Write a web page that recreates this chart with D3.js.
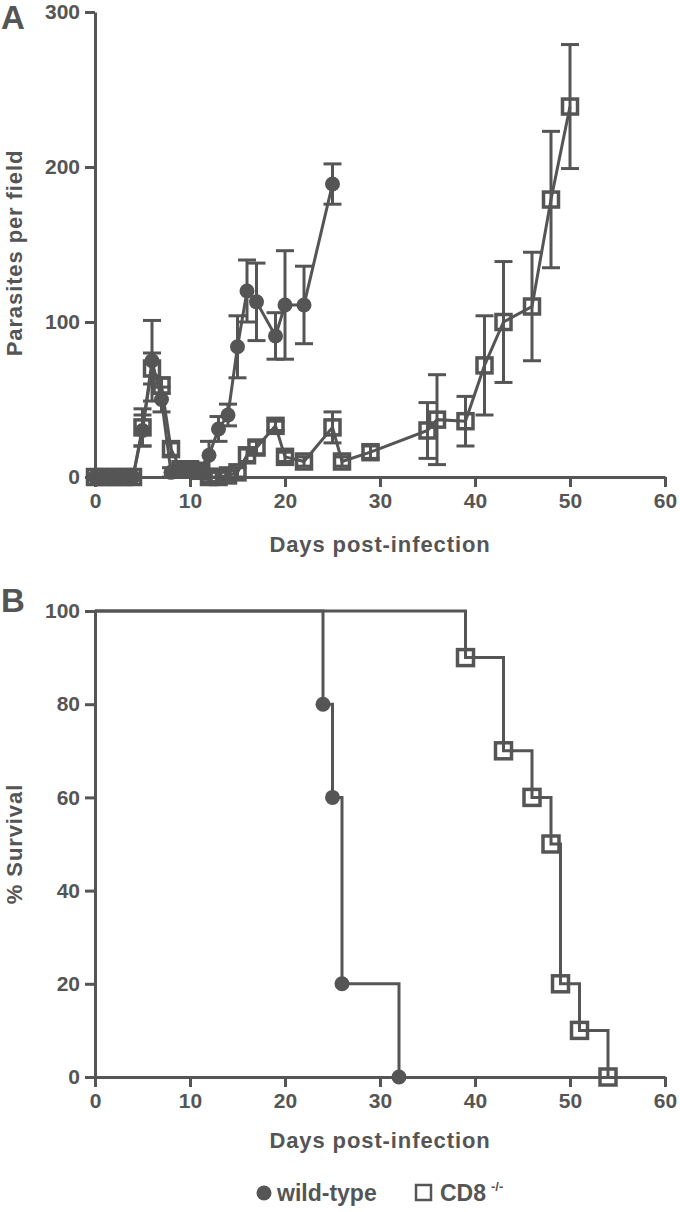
<!DOCTYPE html>
<html><head><meta charset="utf-8">
<script src="https://cdn.jsdelivr.net/npm/d3@7"></script>
<style>body{margin:0;background:#fff}svg{display:block}text{font-family:"Liberation Sans",Arial,sans-serif;}</style>
</head><body><svg id="c" width="680" height="1212"></svg>
<script>
// ---- Panel A data: parasites per field (mean ± SEM) ----
const daysWT = [0,1,2,3,4,5,6,7,8,9,10,11,12,13,14,15,16,17,19,20,22,25];
const paraWT = [0,0,0,0,0,30,75,50,3,4,5,5,14,31,40,84,120,113,91,111,111,189];
const semWT  = [0,0,0,0,0,10,26,8,3,3,3,3,9,8,7,20,20,25,15,35,25,13];

const daysCD8 = [0,1,2,3,4,5,6,7,8,9,10,11,12,13,14,15,16,17,19,20,22,25,26,29,35,36,39,41,43,46,48,50];
const paraCD8 = [0,0,0,0,0,32,70,59,18,5,5,4,0,0,1,3,14,19,33,13,10,32,10,16,30,37,36,72,100,110,179,239];
const semCD8  = [0,0,0,0,0,12,10,5,4,3,3,3,3,3,3,3,4,4,3,3,3,10,3,4,18,29,16,32,39,35,44,40];

// ---- Panel B data: % survival ----
const survDaysWT = [0,24,25,26,32];
const survWT     = [100,80,60,20,0];
const survDaysCD8 = [0,39,43,46,48,49,51,54];
const survCD8     = [100,90,70,60,50,20,10,0];

// ---- ticks / labels ----
const xTicks = [0,10,20,30,40,50,60];
const yTicksA = [0,100,200,300];
const yTicksB = [0,20,40,60,80,100];
const xTitle = "Days post-infection";
const yTitleA = "Parasites per field";
const yTitleB = "% Survival";
const legendLabels = ["wild-type","CD8"];

const C = "#555555";
const svg = d3.select("#c");

const xA = d3.scaleLinear().domain([0,60]).range([95,665]);
const yA = d3.scaleLinear().domain([0,300]).range([477,12]);
const xB = d3.scaleLinear().domain([0,60]).range([95,665]);
const yB = d3.scaleLinear().domain([0,100]).range([1077,611]);

function styleAxis(g){
  g.select(".domain").attr("stroke",C).attr("stroke-width",3);
  g.selectAll(".tick line").attr("stroke",C).attr("stroke-width",3);
  g.selectAll(".tick text").attr("fill",C).attr("font-size",21).attr("font-weight","bold")
   .attr("font-family","'Liberation Sans',Arial,sans-serif");
}

function drawAxes(x,y,yTicks){
  svg.append("g").attr("transform",`translate(0,${y(0)})`)
    .call(d3.axisBottom(x).tickValues(xTicks).tickSize(10).tickSizeOuter(0).tickPadding(6))
    .call(styleAxis);
  svg.append("g").attr("transform",`translate(${x(0)},0)`)
    .call(d3.axisLeft(y).tickValues(yTicks).tickSize(10).tickSizeOuter(0).tickPadding(5))
    .call(styleAxis);
}

drawAxes(xA,yA,yTicksA);
drawAxes(xB,yB,yTicksB);

function drawMarkers(xy, shape, r, sw){
  const g = svg.append("g");
  xy.forEach(([x,y])=>{
    if(shape==="circle") g.append("circle").attr("cx",x).attr("cy",y).attr("r",r).attr("fill",C);
    else g.append("rect").attr("x",x-r).attr("y",y-r).attr("width",2*r).attr("height",2*r)
          .attr("fill","none").attr("stroke",C).attr("stroke-width",sw);
  });
}

// ---- Panel A series ----
function series(days, vals, sems, shape){
  const pts = days.map((d,i)=>({d, v:vals[i], s:sems[i]}));
  const line = d3.line().x(p=>xA(p.d)).y(p=>yA(p.v));
  svg.append("path").datum(pts).attr("d",line).attr("fill","none").attr("stroke",C).attr("stroke-width",3);
  const eb = svg.append("g").attr("stroke",C).attr("stroke-width",3);
  pts.filter(p=>p.s>0).forEach(p=>{
    const x = xA(p.d);
    eb.append("line").attr("x1",x).attr("x2",x).attr("y1",yA(p.v-p.s)).attr("y2",yA(p.v+p.s));
    eb.append("line").attr("x1",x-9).attr("x2",x+9).attr("y1",yA(p.v+p.s)).attr("y2",yA(p.v+p.s));
    eb.append("line").attr("x1",x-9).attr("x2",x+9).attr("y1",yA(p.v-p.s)).attr("y2",yA(p.v-p.s));
  });
  drawMarkers(pts.map(p=>[xA(p.d),yA(p.v)]), shape, shape==="circle"?7.5:7.5, 3.5);
}
series(daysCD8, paraCD8, semCD8, "square");
series(daysWT, paraWT, semWT, "circle");

// ---- Panel B survival ----
function surv(days, vals, shape){
  const pts = days.map((d,i)=>[xB(d), yB(vals[i])]);
  svg.append("path").datum(pts).attr("d", d3.line().curve(d3.curveStepAfter))
    .attr("fill","none").attr("stroke",C).attr("stroke-width",3);
  drawMarkers(pts.slice(1), shape, shape==="circle"?7.5:8, 3.5);
}
surv(survDaysCD8, survCD8, "square");
surv(survDaysWT, survWT, "circle");

// ---- Titles ----
function txt(x,y,s,size,extra){
  const t = svg.append("text").attr("x",x).attr("y",y).text(s).attr("fill",C)
    .attr("font-size",size).attr("font-weight","bold");
  if(extra) extra(t);
  return t;
}
txt(380,552,xTitle,22,t=>t.attr("text-anchor","middle").attr("letter-spacing",0.9));
txt(380,1148,xTitle,22,t=>t.attr("text-anchor","middle").attr("letter-spacing",0.9));
svg.append("text").attr("transform","translate(22,253) rotate(-90)").attr("text-anchor","middle")
  .attr("fill",C).attr("font-size",22).attr("font-weight","bold").attr("letter-spacing",0.9).text(yTitleA);
svg.append("text").attr("transform","translate(22,844) rotate(-90)").attr("text-anchor","middle")
  .attr("fill",C).attr("font-size",22).attr("font-weight","bold").attr("letter-spacing",0.9).text(yTitleB);
txt(1,29,"A",33);
txt(1,612,"B",33);

// ---- Legend ----
const lg = svg.append("g");
lg.append("circle").attr("cx",264).attr("cy",1193).attr("r",7.5).attr("fill",C);
lg.append("text").attr("x",277).attr("y",1201).attr("fill",C).attr("font-size",23).attr("font-weight","bold").text(legendLabels[0]);
lg.append("rect").attr("x",416).attr("y",1185).attr("width",15).attr("height",15).attr("fill","none").attr("stroke",C).attr("stroke-width",2.5);
const ct = lg.append("text").attr("x",440).attr("y",1201).attr("fill",C).attr("font-size",23).attr("font-weight","bold");
ct.append("tspan").text(legendLabels[1]);
ct.append("tspan").attr("dx",5).attr("dy",-10).attr("font-size",13).text("-/-");
</script></body></html>
